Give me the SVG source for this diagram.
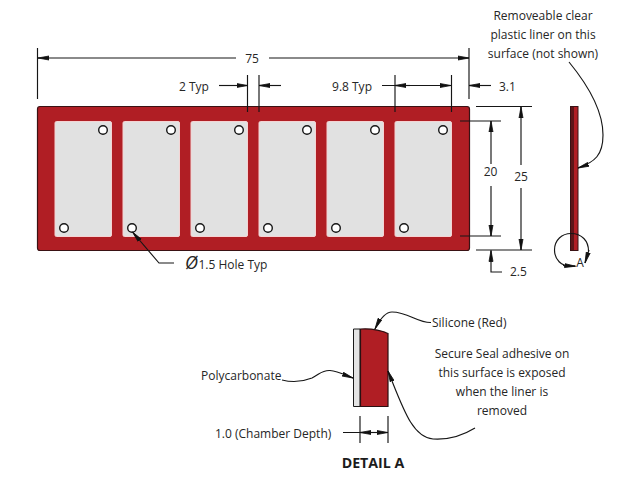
<svg xmlns="http://www.w3.org/2000/svg" width="622" height="480" viewBox="0 0 622 480">
<style>
text{font-family:"Open Sans","Noto Sans","Liberation Sans",sans-serif;font-size:12px;fill:#262626}
.m{text-anchor:middle}
.b{font-weight:700;font-size:14.200px;fill:#1c1c1c}
.l{fill:none;stroke:#161616;stroke-width:1.15}
.a{marker-end:url(#ah)}
.w{fill:#e1e1e1;stroke:#f5d3d3;stroke-width:1}
.h{fill:#fff;stroke:#161616;stroke-width:1.4}
.red{fill:#b01e24;stroke:#3a1214;stroke-width:1.2}
</style>
<defs>
<marker id="ah" markerUnits="userSpaceOnUse" markerWidth="13" markerHeight="8" refX="11" refY="4" orient="auto"><path d="M0 2L11 4L0 6Z" fill="#111" stroke="#111" stroke-width=".8"/></marker>
</defs>
<rect width="622" height="480" fill="#fff"/>
<g id="plate">
<rect class="red" x="37.500" y="106.500" width="432" height="144" rx="2.500"/>
<rect class="w" x="55" y="121.500" width="56.500" height="115" rx="1.500"/>
<rect class="w" x="123" y="121.500" width="56.500" height="115" rx="1.500"/>
<rect class="w" x="191" y="121.500" width="56.500" height="115" rx="1.500"/>
<rect class="w" x="259" y="121.500" width="56.500" height="115" rx="1.500"/>
<rect class="w" x="327" y="121.500" width="56.500" height="115" rx="1.500"/>
<rect class="w" x="395" y="121.500" width="56.500" height="115" rx="1.500"/>
<circle class="h" cx="103" cy="130" r="4.300"/><circle class="h" cx="171" cy="130" r="4.300"/><circle class="h" cx="239" cy="130" r="4.300"/><circle class="h" cx="307" cy="130" r="4.300"/><circle class="h" cx="375" cy="130" r="4.300"/><circle class="h" cx="443" cy="130" r="4.300"/>
<circle class="h" cx="64" cy="228" r="4.300"/><circle class="h" cx="132" cy="228" r="4.300"/><circle class="h" cx="200" cy="228" r="4.300"/><circle class="h" cx="268" cy="228" r="4.300"/><circle class="h" cx="336" cy="228" r="4.300"/><circle class="h" cx="404" cy="228" r="4.300"/>
</g>
<g id="side-view">
<rect x="570.500" y="106.500" width="7.500" height="144" fill="#b01e24" stroke="#3a1214"/>
<rect x="571" y="107" width="3" height="143" fill="#5e1518"/>
</g>
<g id="detail-a">
<path d="M353.500 329H360V406.500H353.500Z" fill="#e4e4e4" stroke="#1a1a1a"/>
<path d="M360.500 329Q376 328 388 333.500V406.500H360.500Z" fill="#b01e24" stroke="#2a1012" stroke-width="1.200"/>
</g>
<g id="connectors">
<path class="l" d="M37.500 48V99M469 48V99M247.500 75V112M259 75V112M395 75V112M451.500 75V112M460 121H501M460 236H501M476 106.500H532M476 250H532M360 416V443M388 416V443"/>
<path class="l a" d="M236 58H38"/><path class="l a" d="M269 58H469"/>
<path class="l a" d="M219 85.500H247.500"/><path class="l a" d="M281 85.500H259"/>
<path class="l a" d="M382 85.500H451"/><path class="l a" d="M410 85.500H395"/>
<path class="l a" d="M491 85.500H469"/>
<path class="l a" d="M491 164V121"/><path class="l a" d="M491 186V236"/>
<path class="l a" d="M521 165V107"/><path class="l a" d="M521 188V250"/>
<path class="l a" d="M502 272H491V250.500"/>
<path class="l a" d="M174 263H159L132.500 232"/>
<path class="l a" d="M569 62C592 90 603 115 603 135C603 155 595 162 578 168"/>
<path class="l" d="M575 266C560 268 554.500 258 554.500 250C554.500 240 562 233.500 571 233.500C582 233.500 588.500 241 588.500 251"/>
<path class="l a" d="M589 250L585 263"/>
<path class="l a" d="M563 265.500L575.500 266.200"/>
<path class="l a" d="M431 322.500C418 323 408 312 392 312C385 312 379 321 375 329"/>
<path class="l a" d="M282 380C290 382 302 382 312 378C320 374 322 370 330 370.500C338 371 345 375 353 378"/>
<path class="l a" d="M475 428C462 436 448 440 433 439C412 437 403 408 388 371"/>
<path class="l a" d="M343 432.500H388"/>
<path class="l a" d="M380 432.500H360"/>
</g>
<g id="labels">
<text class="m" x="252" y="63">75</text>
<text class="m" x="194" y="91">2 Typ</text>
<text class="m" x="352" y="91">9.8 Typ</text>
<text x="499" y="91">3.1</text>
<text class="m" x="490.500" y="176">20</text>
<text class="m" x="521" y="181">25</text>
<text x="510" y="276">2.5</text>
<text x="185" y="269"><tspan font-size="18" font-style="italic">Ø</tspan><tspan dx="0.500">1.5 Hole Typ</tspan></text>
<text class="m" x="543" y="20">Removeable clear</text>
<text class="m" x="543" y="39">plastic liner on this</text>
<text class="m" x="543" y="58">surface (not shown)</text>
<text class="m" x="580" y="267">A</text>
<text x="432" y="327">Silicone (Red)</text>
<text x="201" y="380">Polycarbonate</text>
<text class="m" x="502" y="358">Secure Seal adhesive on</text>
<text class="m" x="502" y="377">this surface is exposed</text>
<text class="m" x="502" y="396">when the liner is</text>
<text class="m" x="502" y="415">removed</text>
<text x="215" y="438">1.0 (Chamber Depth)</text>
<text class="b m" x="373" y="468">DETAIL A</text>
</g>
</svg>
